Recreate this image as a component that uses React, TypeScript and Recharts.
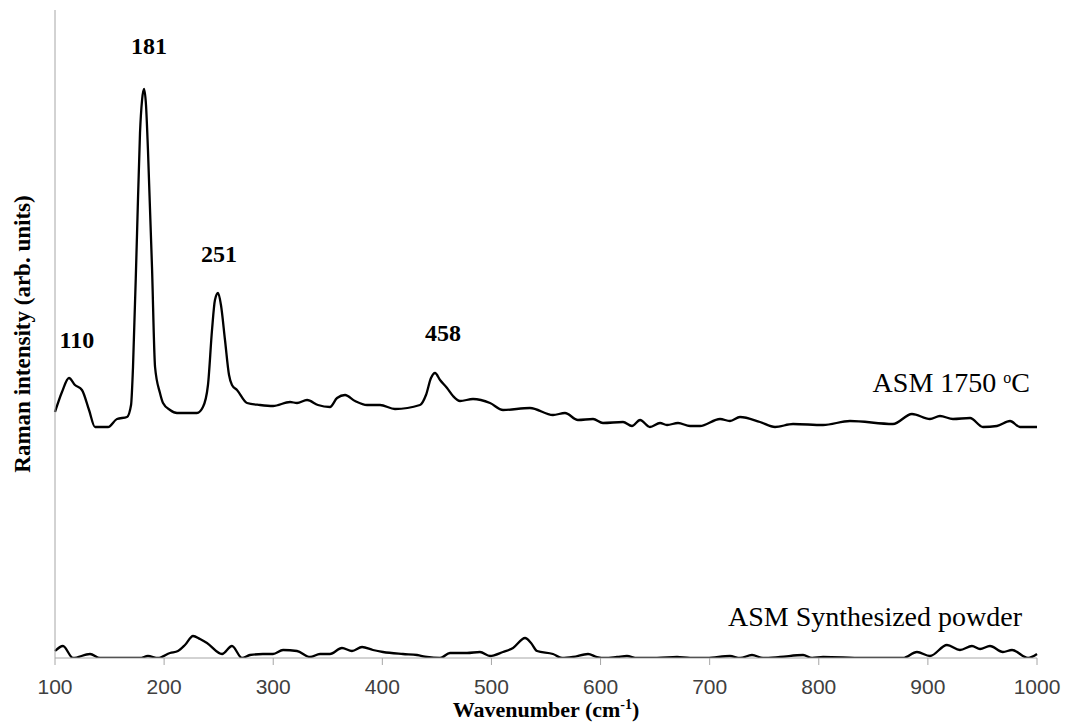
import { LineChart, Line, XAxis, YAxis, ReferenceDot } from 'recharts';

// ASM sintered at 1750 °C
const wavenumber1750 = [
  100, 106.4, 112.8, 118.3, 124.7, 131.2, 136.7, 148.6, 156.8, 166, 169.7, 171.5, 175.2, 177.9,
  179.8, 181.6, 183.4, 185.2, 188.9, 191.7, 196.2, 199, 205.4, 211.8, 230.1, 235.6, 240.2, 243.9,
  246.6, 249.4, 252.1, 255.8, 259.5, 262.2, 266.8, 276, 287.9, 299.8, 315.4, 321.8, 331, 341, 352,
  358.5, 365.8, 375, 386, 397.9, 411.6, 434.5, 440, 444.6, 448.3, 452.9, 459.3, 464.8, 471.2, 483.1,
  498.7, 510.6, 535.3, 556.4, 567.4, 579.3, 593.1, 602.2, 620.6, 628.8, 636.2, 645.3, 654.5, 660.9,
  671, 682, 691.1, 709.5, 718.6, 727.8, 746.1, 759.9, 776.4, 803.9, 828.6, 868, 885.4, 901.9, 911.1,
  923, 938.6, 950.5, 963.3, 975.3, 984.4, 1000,
];
const intensity1750 = [
  246, 266, 280, 273, 268, 248, 231, 231, 239, 241, 253, 291, 425, 525,
  558, 569, 553, 508, 391, 291, 265, 255, 248, 245, 245, 251, 273, 328,
  358, 365, 353, 318, 283, 273, 268, 255, 253, 252, 256, 255, 258, 253, 251,
  260, 263, 257, 253, 253, 249, 253, 263, 280, 285, 278, 270, 262, 257, 259,
  255, 248, 250, 243, 245, 238, 239, 235, 236, 232, 238, 231, 235, 233,
  235, 232, 232, 239, 237, 241, 236, 231, 234, 233, 237, 234, 244, 239, 242,
  239, 240, 231, 232, 237, 231, 231,
];

// ASM synthesized powder
const wavenumberPowder = [
  100, 107.3, 116.5, 132.1, 141.2, 177.9, 185.2, 194.4, 205.4, 212.7, 219.1, 226.5, 232.9, 239.3,
  253.1, 262.2, 271.4, 278.7, 290.6, 299.8, 309, 321.8, 333.7, 342.9, 352, 363, 372.2, 381.4, 391.4,
  400.6, 418.9, 431.8, 440.9, 452.9, 462, 477.6, 489.5, 498.7, 510.6, 519.8, 530.8, 536.3, 541.8,
  556.4, 564.7, 574.7, 588.5, 596.7, 604.1, 615.1, 624.2, 633.4, 651.7, 670.1, 682, 697.6, 718.6,
  727.8, 738.8, 748.9, 764.5, 785.6, 793.8, 803.9, 840.5, 877.2, 890, 901.9, 917.5, 929.4, 940.4,
  947.8, 956.9, 968.8, 977.1, 991.8, 1000,
];
const intensityPowder = [
  7, 12, 0, 4, 0, 0, 2, 0, 5, 7, 13, 22, 19, 15,
  4, 12, 0, 3, 4, 4, 8, 7, 1, 4, 4, 10, 7, 11, 8,
  6, 4, 3, 1, 0, 5, 5, 6, 2, 6, 10, 20, 15, 7,
  4, 0, 1, 4, 1, 0, 1, 2, 0, 0, 1, 0, 0, 2,
  0, 3, 0, 1, 3, 0, 1, 0, 0, 6, 2, 13, 8, 12,
  9, 12, 6, 8, 0, 4,
];

const xTicks = [100, 200, 300, 400, 500, 600, 700, 800, 900, 1000];

const peakLabels = ['110', '181', '251', '458'];
const peakPositions = [112.8, 181.6, 249.4, 448.3];

const data1750 = wavenumber1750.map((x, i) => ({ x, y: intensity1750[i] }));
const dataPowder = wavenumberPowder.map((x, i) => ({ x, y: intensityPowder[i] }));

// pixel offsets of each peak label from its peak
const peakOffsets = [
  { dx: 8, dy: -30 },
  { dx: 5, dy: -35 },
  { dx: 1, dy: -31 },
  { dx: 8, dy: -32 },
];

const serif = '"Liberation Serif", "Times New Roman", serif';

function peakLabel(text: string, dx: number, dy: number) {
  return (props: any) => {
    const vb = props.viewBox || {};
    const cx = (vb.x ?? 0) + (vb.width ?? 0) / 2;
    const cy = (vb.y ?? 0) + (vb.height ?? 0) / 2;
    return (
      <text x={cx + dx} y={cy + dy} textAnchor="middle" fontFamily={serif} fontWeight="bold" fontSize={24} fill="#000">
        {text}
      </text>
    );
  };
}

function Label1750(props: any) {
  const vb = props.viewBox || {};
  const x = (vb.x ?? 0) - 7;
  const y = (vb.y ?? 0) - 35;
  return (
    <text x={x} y={y} textAnchor="end" fontFamily={serif} fontSize={28} fill="#000">
      ASM 1750{' '}
      <tspan fontSize={16} dy={-9}>o</tspan>
      <tspan dy={9}>C</tspan>
    </text>
  );
}

function LabelPowder(props: any) {
  const vb = props.viewBox || {};
  return (
    <text x={(vb.x ?? 0) - 15} y={(vb.y ?? 0) - 28} textAnchor="end" fontFamily={serif} fontSize={28} fill="#000">
      ASM Synthesized powder
    </text>
  );
}

function XTitle(props: any) {
  const vb = props.viewBox || {};
  const cx = vb.x + vb.width / 2;
  return (
    <text x={cx} y={717} textAnchor="middle" fontFamily={serif} fontWeight="bold" fontSize={22} fill="#000">
      Wavenumber (cm
      <tspan fontSize={14} dy={-8}>-1</tspan>
      <tspan dy={8}>)</tspan>
    </text>
  );
}

function YTitle(props: any) {
  const vb = props.viewBox || {};
  const cx = 30;
  const cy = vb.y + vb.height / 2;
  return (
    <text
      x={cx}
      y={cy}
      transform={`rotate(-90 ${cx} ${cy})`}
      textAnchor="middle"
      fontFamily={serif}
      fontWeight="bold"
      fontSize={23}
      fill="#000"
    >
      Raman intensity (arb. units)
    </text>
  );
}

export default function App() {
  return (
    <div style={{ position: 'absolute', left: 0, top: 0, width: 1068, height: 722, background: '#fff' }}>
      <LineChart width={1068} height={722} margin={{ top: 10, right: 31, bottom: 0, left: 0 }}>
        <XAxis
          type="number"
          dataKey="x"
          domain={[100, 1000]}
          ticks={xTicks}
          allowDuplicatedCategory={false}
          height={64}
          stroke="#a6a6a6"
          tickSize={7}
          tickMargin={14}
          tick={{ fill: '#404040', fontSize: 21, fontFamily: '"Liberation Sans", Arial, sans-serif' }}
          label={<XTitle />}
        />
        <YAxis
          type="number"
          dataKey="y"
          domain={[0, 648]}
          allowDataOverflow
          width={55}
          tick={false}
          tickLine={false}
          stroke="#a6a6a6"
          label={<YTitle />}
        />
        <Line
          data={data1750}
          dataKey="y"
          type="monotone"
          stroke="#000"
          strokeWidth={2.3}
          dot={false}
          isAnimationActive={false}
        />
        <Line
          data={dataPowder}
          dataKey="y"
          type="monotone"
          stroke="#000"
          strokeWidth={2.3}
          dot={false}
          isAnimationActive={false}
        />
        {peakLabels.map((text, i) => {
          const idx = wavenumber1750.indexOf(peakPositions[i]);
          return (
            <ReferenceDot
              key={text}
              x={peakPositions[i]}
              y={intensity1750[idx]}
              r={0}
              fill="none"
              stroke="none"
              ifOverflow="visible"
              label={peakLabel(text, peakOffsets[i].dx, peakOffsets[i].dy)}
            />
          );
        })}
        <ReferenceDot
          x={wavenumber1750[wavenumber1750.length - 1]}
          y={intensity1750[intensity1750.length - 1]}
          r={0}
          fill="none"
          stroke="none"
          ifOverflow="visible"
          label={<Label1750 />}
        />
        <ReferenceDot
          x={wavenumberPowder[wavenumberPowder.length - 1]}
          y={intensityPowder[intensityPowder.length - 1]}
          r={0}
          fill="none"
          stroke="none"
          ifOverflow="visible"
          label={<LabelPowder />}
        />
      </LineChart>
    </div>
  );
}
